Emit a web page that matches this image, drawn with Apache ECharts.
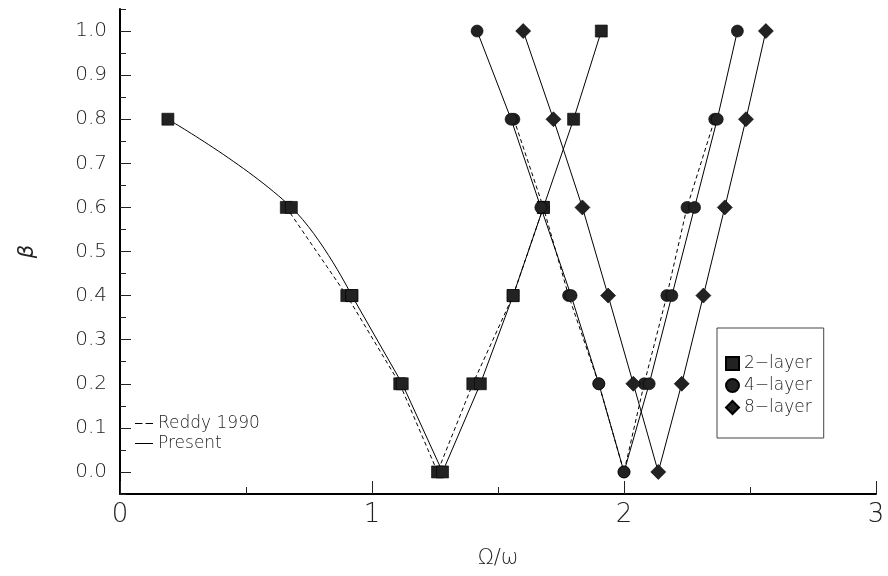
<!DOCTYPE html>
<html>
<head>
<meta charset="utf-8">
<script src="https://cdn.jsdelivr.net/npm/echarts@6/dist/echarts.min.js"></script>
<style>html,body{margin:0;padding:0;background:#fff}#c{width:888px;height:576px}</style>
</head>
<body>
<div id="c"></div>
<script>
// ---- data ----
const yLevels = [1.0, 0.8, 0.6, 0.4, 0.2, 0.0, 0.2, 0.4, 0.6, 0.8, 1.0];

const x2Present = [0.19, 0.68, 0.92, 1.12, 1.28, 1.43, 1.56, 1.68, 1.80, 1.91];
const y2Present = [0.8, 0.6, 0.4, 0.2, 0.0, 0.2, 0.4, 0.6, 0.8, 1.0];
const x2Reddy = [0.66, 0.90, 1.11, 1.26, 1.40, 1.56, 1.68];
const y2Reddy = [0.6, 0.4, 0.2, 0.0, 0.2, 0.4, 0.6];

const x4Present = [1.417, 1.552, 1.67, 1.79, 1.90, 2.00, 2.10, 2.19, 2.28, 2.37, 2.45];
const y4Present = yLevels;
const x4Reddy = [1.563, 1.68, 1.78, 1.90, 2.00, 2.08, 2.17, 2.25, 2.36];
const y4Reddy = [0.8, 0.6, 0.4, 0.2, 0.0, 0.2, 0.4, 0.6, 0.8];

const x8Present = [1.60, 1.72, 1.835, 1.937, 2.037, 2.136, 2.229, 2.315, 2.40, 2.484, 2.563];
const y8Present = yLevels;

const layerNames = ['2\u2212layer', '4\u2212layer', '8\u2212layer'];
const styleNames = ['Reddy 1990', 'Present'];
const yTickLabels = ['0.0','0.1','0.2','0.3','0.4','0.5','0.6','0.7','0.8','0.9','1.0'];
const xTickLabels = ['0','1','2','3'];

// ---- build ----
const pairs = (xs, ys) => xs.map((x, i) => [x, ys[i]]);
const FONT = 'DejaVu Sans';
const INK = '#222';
const W = 'lighter';

function ser(name, data, sym, size, dashed, smooth) {
  return {
    type: 'line', name: name, xAxisIndex: 0, yAxisIndex: 0,
    data: data,
    symbol: sym, symbolSize: size, smooth: smooth || false,
    itemStyle: { color: INK, borderColor: '#000', borderWidth: 0.6 },
    lineStyle: { color: '#000', width: 1, type: dashed ? [4, 3] : 'solid' },
    showSymbol: true, animation: false, z: dashed ? 3 : 4
  };
}

const p2 = pairs(x2Present, y2Present);
const series = [
  ser(layerNames[0], pairs(x2Reddy, y2Reddy), 'rect', 12, true),
  // curved low-frequency part of the present 2-layer curve, then straight segments
  ser(layerNames[0], p2.slice(0, 3), 'rect', 12, false, 0.4),
  ser(layerNames[0], p2.slice(2), 'rect', 12, false),
  ser(layerNames[1], pairs(x4Reddy, y4Reddy), 'circle', 12, true),
  ser(layerNames[1], pairs(x4Present, y4Present), 'circle', 12, false),
  ser(layerNames[2], pairs(x8Present, y8Present), 'diamond', 15, false),
  { type: 'line', name: styleNames[0], data: [], symbol: 'none',
    lineStyle: { color: '#000', width: 1, type: [4, 3] }, itemStyle: { color: '#000' } },
  { type: 'line', name: styleNames[1], data: [], symbol: 'none',
    lineStyle: { color: '#000', width: 1, type: 'solid' }, itemStyle: { color: '#000' } }
];

const option = {
  animation: false,
  backgroundColor: '#fff',
  grid: [
    { left: 120, right: 12, top: 9, bottom: 82 },
    { left: 120, right: 12, top: 31, bottom: 104 }
  ],
  xAxis: [
    { type: 'value', gridIndex: 0, min: 0, max: 3, interval: 1,
      name: '\u03A9/\u03C9', nameLocation: 'middle', nameGap: 54,
      nameTextStyle: { fontFamily: FONT, fontSize: 21, color: INK, fontWeight: W },
      axisLine: { show: true, onZero: false, lineStyle: { color: '#000', width: 2 } },
      axisTick: { show: true, inside: true, length: 13, lineStyle: { color: '#222', width: 1 } },
      minorTick: { show: true, splitNumber: 2, length: 7, lineStyle: { color: '#222', width: 1 } },
      splitLine: { show: false },
      axisLabel: { show: true, margin: 8, fontFamily: FONT, fontSize: 26, color: INK, fontWeight: W,
        formatter: v => { const i = Math.round(v); return Math.abs(v - i) < 1e-6 ? xTickLabels[i] : ''; } } },
    { type: 'value', gridIndex: 1, min: 0, max: 3, show: false }
  ],
  yAxis: [
    { type: 'value', gridIndex: 0, min: -0.05, max: 1.05, interval: 0.05,
      axisLine: { show: true, onZero: false, lineStyle: { color: '#000', width: 2 } },
      axisTick: { show: true, inside: true, length: 6, lineStyle: { color: '#222', width: 1 } },
      splitLine: { show: false }, axisLabel: { show: false },
      name: '\u03B2', nameLocation: 'middle', nameGap: 82, nameRotate: 90,
      nameTextStyle: { fontFamily: FONT, fontSize: 21, fontStyle: 'italic', color: INK, fontWeight: W } },
    { type: 'value', gridIndex: 1, min: 0, max: 1, interval: 0.1,
      axisLine: { show: false },
      axisTick: { show: true, inside: true, length: 11, lineStyle: { color: '#222', width: 1 } },
      splitLine: { show: false },
      axisLabel: { show: true, margin: 13, fontFamily: FONT, fontSize: 20, color: INK, fontWeight: W,
        formatter: v => yTickLabels[Math.round(v * 10)] } }
  ],
  legend: [
    { data: [ { name: layerNames[0], icon: 'rect' }, { name: layerNames[1], icon: 'circle' }, { name: layerNames[2], icon: 'diamond' } ],
      orient: 'vertical', left: 717, top: 328, itemWidth: 13, itemHeight: 13, itemGap: 5,
      padding: [27, 12, 22, 8], borderColor: '#444', borderWidth: 1, selectedMode: false,
      textStyle: { fontFamily: FONT, fontSize: 17, color: INK, fontWeight: W } },
    { data: [
        { name: styleNames[0], icon: 'path://M0,0h7v1h-7z M10,0h7v1h-7z' },
        { name: styleNames[1], icon: 'path://M0,0h17v1h-17z' } ],
      orient: 'vertical', left: 131, top: 415, itemWidth: 18, itemHeight: 1.3, itemGap: 3,
      padding: [0, 0, 0, 4], selectedMode: false,
      textStyle: { fontFamily: FONT, fontSize: 17, color: INK, fontWeight: W, lineHeight: 17 } }
  ],
  series: series
};

const chart = echarts.init(document.getElementById('c'), null, { renderer: 'canvas' });
chart.setOption(option);
</script>
</body>
</html>
